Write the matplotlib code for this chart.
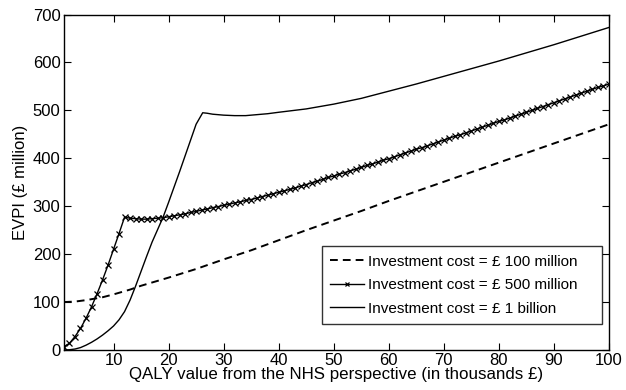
import matplotlib
matplotlib.use("Agg")
import matplotlib.pyplot as plt
import numpy as np

plt.rcParams["font.family"] = ["Liberation Sans", "DejaVu Sans"]

# QALY value (thousands of pounds) and EVPI (million pounds) per investment cost
qaly = np.arange(1, 101)

evpi_500m = [
    7, 14, 28, 45, 66, 90, 117, 146, 177, 210,
    243, 277, 275, 274, 273, 273, 274, 275, 276, 278,
    280, 282, 284, 287, 289, 292, 294, 297, 299, 302,
    304, 307, 309, 312, 314, 317, 320, 323, 326, 329,
    332, 335, 338, 342, 345, 349, 352, 356, 360, 363,
    367, 370, 374, 377, 381, 385, 388, 392, 396, 399,
    403, 407, 411, 415, 419, 422, 426, 430, 434, 438,
    442, 446, 449, 453, 457, 461, 465, 469, 473, 477,
    480, 484, 488, 492, 496, 500, 504, 508, 512, 516,
    520, 524, 528, 532, 536, 540, 544, 548, 551, 555,
]

qaly_100m = [1, 3, 5, 8, 10, 13, 15, 20, 25, 30, 35, 40, 45, 50, 55, 60, 65, 70, 75, 80, 85, 90, 95, 100]
evpi_100m = [100, 101, 104, 110, 116, 126, 134, 151, 169, 189, 208, 229, 250, 270, 290, 311, 331, 351, 371, 391, 411, 431, 451, 471]

qaly_1b = [1, 2, 3, 4, 5, 6, 7, 8, 9, 10, 11, 12, 13, 14, 15, 16, 17, 18, 19, 20, 21, 22, 23, 24, 25,
           26.2, 27, 28, 30, 32, 34, 36, 38, 40, 45, 50, 55, 60, 65, 70, 75, 80, 85, 90, 95, 100]
evpi_1b = [0, 0.5, 2, 5, 10, 16, 23, 31, 40, 50, 63, 80, 104, 133, 164, 195, 225, 251, 277, 308, 340, 372, 405, 438, 471,
           495, 494, 492, 490, 489, 489, 491, 493, 496, 503, 513, 525, 540, 555, 571, 587, 603, 620, 637, 655, 673]

fig = plt.figure(figsize=(6.26, 3.90), dpi=100)
ax = fig.add_axes([0.1022, 0.1026, 0.8706, 0.8602])

ax.plot(qaly_100m, evpi_100m, color="black", lw=1.4, dashes=(4, 2.6),
        label="Investment cost = £ 100 million")
ax.plot(qaly, evpi_500m, color="black", lw=1.0, marker="x", ms=4.5, mew=0.9,
        label="Investment cost = £ 500 million")
ax.plot(qaly_1b, evpi_1b, color="black", lw=1.0,
        label="Investment cost = £ 1 billion")

ax.set_xlim(1, 100)
ax.set_ylim(0, 700)
ax.set_xticks(np.arange(10, 101, 10))
ax.set_yticks(np.arange(0, 701, 100))
ax.tick_params(direction="in", length=5, width=0.8, top=True, right=True,
               labelsize=12, pad=2.5)
for s in ax.spines.values():
    s.set_linewidth(1.0)

ax.set_xlabel("QALY value from the NHS perspective (in thousands £)", fontsize=12.2, labelpad=-1)
ax.set_ylabel("EVPI (£ million)", fontsize=12, labelpad=3)

# single-column legend stretched to a fixed-width box, text left-aligned
leg = ax.legend(loc="lower left", bbox_to_anchor=(0.473, 0.0775, 0.5136, 0.23),
                mode="expand", borderaxespad=0, fontsize=11, frameon=True,
                fancybox=False, handlelength=2.2, handletextpad=0.25,
                labelspacing=0.62, borderpad=0.55, markerscale=0.65)
leg.get_frame().set_edgecolor("black")
leg.get_frame().set_linewidth(1.0)

fig.savefig("out.png", dpi=100)
